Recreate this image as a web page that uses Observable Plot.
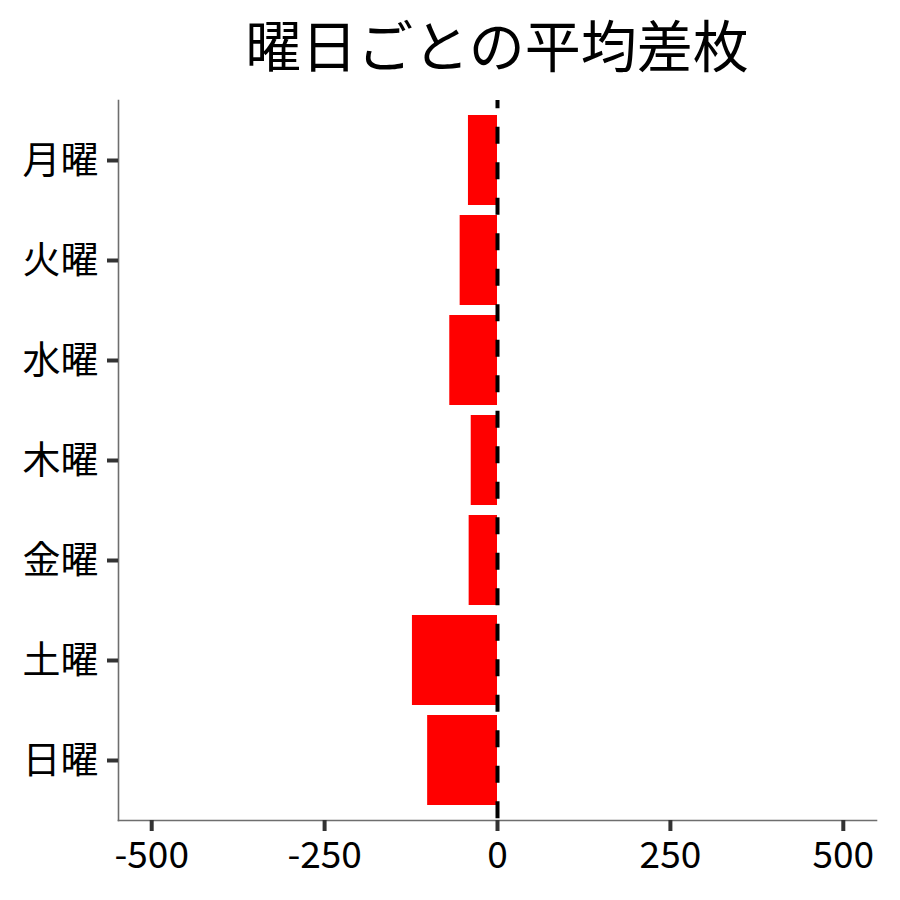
<!DOCTYPE html>
<html>
<head>
<meta charset="utf-8">
<script src="https://cdn.jsdelivr.net/npm/d3@7"></script>
<script src="https://cdn.jsdelivr.net/npm/@observablehq/plot@0.6"></script>
<style>
  html, body { margin: 0; padding: 0; background: #fff; }
  #title {
    box-sizing: border-box;
    width: 900px; height: 100px;
    padding-left: 118px; padding-right: 24px;
    text-align: center;
    font-family: "Noto Sans CJK JP", sans-serif;
    font-size: 56px; line-height: 86px;
    color: #000;
  }
  #chart svg { display: block; }
</style>
</head>
<body>
<div id="title">曜日ごとの平均差枚</div>
<div id="chart"></div>
<script>
const days = ["月曜", "火曜", "水曜", "木曜", "金曜", "土曜", "日曜"];
const values = [-42, -54, -69, -38, -41, -123, -101];
const xTicks = [-500, -250, 0, 250, 500];

const data = days.map((d, i) => ({day: d, value: values[i]}));

const chart = Plot.plot({
  width: 900,
  height: 800,
  marginTop: 0,
  marginBottom: 80,
  marginLeft: 118,
  marginRight: 24,
  style: {fontFamily: "'Noto Sans CJK JP', sans-serif", fontSize: "37px", color: "#000", background: "#fff", overflow: "visible"},
  x: {domain: [-548, 548], ticks: xTicks, label: null},
  y: {type: "band", domain: days, paddingInner: 0.1, paddingOuter: 0.15, label: null},
  marks: [
    Plot.barX(data, {x: "value", y: "day", fill: "#ff0000"}),
    Plot.ruleX([0], {stroke: "#000", strokeWidth: 4, strokeDasharray: "17,18.5", strokeDashoffset: 8.8}),
    Plot.frame({anchor: "left", stroke: "#6e6e6e", strokeWidth: 1.6}),
    Plot.frame({anchor: "bottom", stroke: "#6e6e6e", strokeWidth: 1.6}),
    Plot.axisX({ticks: xTicks, tickSize: 11, tickPadding: 10, stroke: "#333", strokeWidth: 4, fill: "#000", fontSize: 37, label: null, tickFormat: d => String(d)}),
    Plot.axisY({tickSize: 11, tickPadding: 9, stroke: "#333", strokeWidth: 4, fill: "#000", fontSize: 38, label: null})
  ]
});
document.getElementById("chart").appendChild(chart);
</script>
</body>
</html>
